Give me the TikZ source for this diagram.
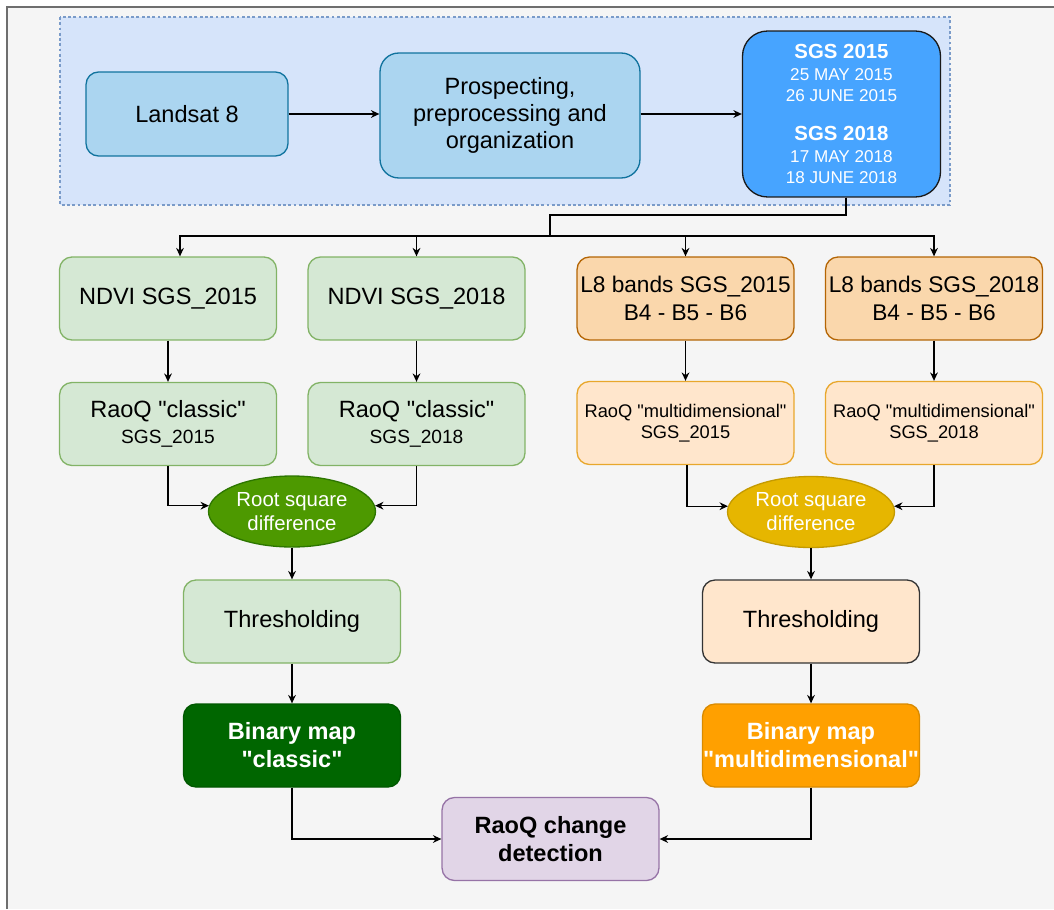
\documentclass[tikz,border=0pt]{standalone}
\usepackage{fontspec}
\setmainfont{Liberation Sans}[Ligatures=TeXOff]
\usetikzlibrary{arrows.meta,shapes.geometric,calc}
\definecolor{framebg}{HTML}{F5F5F5}
\definecolor{framestroke}{HTML}{6E6E6E}
\definecolor{contfill}{HTML}{D6E4FA}
\definecolor{contstroke}{HTML}{7A9BC9}
\definecolor{bluefill}{HTML}{ABD5F0}
\definecolor{bluestroke}{HTML}{10739E}
\definecolor{sgsfill}{HTML}{47A4FF}
\definecolor{sgsstroke}{HTML}{1A1A1A}
\definecolor{lgreen}{HTML}{D5E8D4}
\definecolor{lgreenstroke}{HTML}{82B366}
\definecolor{ellgreen}{HTML}{4D9900}
\definecolor{ellgreenstroke}{HTML}{2D7600}
\definecolor{dgreen}{HTML}{006600}
\definecolor{dgreenstroke}{HTML}{005700}
\definecolor{orangemid}{HTML}{FAD7AC}
\definecolor{orangemidstroke}{HTML}{B46504}
\definecolor{lorange}{HTML}{FFE6CC}
\definecolor{lorangestroke}{HTML}{E8A72C}
\definecolor{ellorange}{HTML}{E6B600}
\definecolor{ellorangestroke}{HTML}{C49A00}
\definecolor{dorange}{HTML}{FFA000}
\definecolor{dorangestroke}{HTML}{D98A00}
\definecolor{lpurple}{HTML}{E1D5E7}
\definecolor{lpurplestroke}{HTML}{9673A6}
\newcommand\fsz[2]{\fontsize{#1}{#2}\selectfont}
\begin{document}
\begin{tikzpicture}[x=0.02cm,y=-0.02cm,
  box/.style={rectangle, rounded corners=0.25cm, minimum width=4.34cm, minimum height=1.66cm,
    inner sep=0pt, align=center, line width=0.75pt, text=black, font=\fsz{13.4}{16}},
  ellbox/.style={ellipse, minimum width=3.34cm, minimum height=1.42cm, inner sep=0pt,
    align=center, line width=0.75pt, text=white, font=\fsz{11.6}{13.6}},
  arr/.style={draw=black, line width=0.75pt, -{Stealth[length=4.8pt,width=4.4pt]}},
  line/.style={draw=black, line width=0.75pt}
]
\useasboundingbox (0,0) rectangle (1054,909);
\fill[white] (0,0) rectangle (1054,909);
\fill[framebg] (7,7) rectangle (1054,909);
\draw[framestroke, line width=1.1pt] (7,909) -- (7,7) -- (1054,7);
\draw[fill=contfill, draw=contstroke, line width=0.7pt, dash pattern=on 1.6pt off 1.4pt] (60,17) rectangle (950,205);

% top row
\node[box, fill=bluefill, draw=bluestroke, minimum width=4.04cm, minimum height=1.68cm] (landsat) at (187,114) {Landsat 8};
\node[box, fill=bluefill, draw=bluestroke, minimum width=5.2cm, minimum height=2.5cm, rounded corners=0.375cm, font=\fsz{13.4}{15.6}] (prosp) at (510,115.5) {Prospecting,\\preprocessing and\\organization};
\node[box, fill=sgsfill, draw=sgsstroke, minimum width=3.96cm, minimum height=3.32cm, rounded corners=0.5cm, text=white, font=\fsz{9.75}{11.9}] (sgs) at (841.5,114)
  {{\bfseries\fsz{11.6}{11.9}SGS 2015}\\[0.6pt]25 MAY 2015\\26 JUNE 2015\\[10.3pt]{\bfseries\fsz{11.6}{11.9}SGS 2018}\\[0.6pt]17 MAY 2018\\18 JUNE 2018};

\draw[arr] (landsat) -- (landsat -| prosp.west);
\draw[arr] (prosp.east |- landsat) -- (sgs.west |- landsat);

% row 1
\node[box, fill=lgreen, draw=lgreenstroke] (ndvi15) at (168,298.5) {NDVI SGS\_2015};
\node[box, fill=lgreen, draw=lgreenstroke] (ndvi18) at (416.5,298.5) {NDVI SGS\_2018};
\node[box, fill=orangemid, draw=orangemidstroke, font=\fsz{12.9}{16.1}] (l8a) at (685.5,298.5) {L8 bands SGS\_2015\\B4 - B5 - B6};
\node[box, fill=orangemid, draw=orangemidstroke, font=\fsz{12.9}{16.1}] (l8b) at (934,298.5) {L8 bands SGS\_2018\\B4 - B5 - B6};

% branch from SGS
\coordinate (bend1) at (846,215);
\coordinate (bend2) at (550,215);
\coordinate (split) at (550,236);
\draw[arr] (sgs.south -| bend1) -- (bend1) -- (bend2) -- (split) -| ([xshift=0.24cm]ndvi15.north);
\draw[arr] (sgs.south -| bend1) -- (bend1) -- (bend2) -- (split) -| (ndvi18.north);
\draw[arr] (sgs.south -| bend1) -- (bend1) -- (bend2) -- (split) -| (l8a.north);
\draw[arr] (sgs.south -| bend1) -- (bend1) -- (bend2) -- (split) -| (l8b.north);

% row 2
\node[box, fill=lgreen, draw=lgreenstroke, font=\fsz{13.4}{15.1}] (rc15) at (168,424) {RaoQ "classic"\\{\fsz{10.9}{15.1}SGS\_2015}};
\node[box, fill=lgreen, draw=lgreenstroke, font=\fsz{13.4}{15.1}] (rc18) at (416.5,424) {RaoQ "classic"\\{\fsz{10.9}{15.1}SGS\_2018}};
\node[box, fill=lorange, draw=lorangestroke, font=\fsz{10.4}{11.6}] (rm15) at (685.5,423) {RaoQ "multidimensional"\\SGS\_2015};
\node[box, fill=lorange, draw=lorangestroke, font=\fsz{10.4}{11.6}] (rm18) at (934,423) {RaoQ "multidimensional"\\SGS\_2018};

\draw[arr] (ndvi15) -- (rc15);
\draw[arr] (ndvi18) -- (rc18);
\draw[arr] (l8a) -- (rm15);
\draw[arr] (l8b) -- (rm18);

% ellipses
\node[ellbox, fill=ellgreen, draw=ellgreenstroke] (ellg) at (292,511.5) {Root square\\difference};
\node[ellbox, fill=ellorange, draw=ellorangestroke] (ello) at (811,512) {Root square\\difference};

\draw[arr] (rc15.south) |- (ellg.176);
\draw[arr] (rc18.south) |- (ellg.4);
\draw[arr] ([xshift=0.03cm]rm15.south) |- (ello.176);
\draw[arr] (rm18.south) |- (ello.4);

% thresholding
\node[box, fill=lgreen, draw=lgreenstroke] (thg) at (292,621.5) {Thresholding};
\node[box, fill=lorange, draw=black!80] (tho) at (811,621.5) {Thresholding};
\draw[arr] (ellg) -- (thg);
\draw[arr] (ello) -- (tho);

% binary maps
\node[box, fill=dgreen, draw=dgreenstroke, text=white, font=\bfseries\fsz{13.4}{16}] (bing) at (292,745.5) {Binary map\\"classic"};
\node[box, fill=dorange, draw=dorangestroke, text=white, font=\bfseries\fsz{13.4}{16}] (bino) at (811,745.5) {Binary map\\"multidimensional"};
\draw[arr] (thg) -- (bing);
\draw[arr] (tho) -- (bino);

% change detection
\node[box, fill=lpurple, draw=lpurplestroke, font=\bfseries\fsz{13.4}{16}] (cd) at (550.5,839) {RaoQ change\\detection};
\draw[arr] (bing.south) |- (cd.west);
\draw[arr] (bino.south) |- (cd.east);
\end{tikzpicture}
\end{document}
